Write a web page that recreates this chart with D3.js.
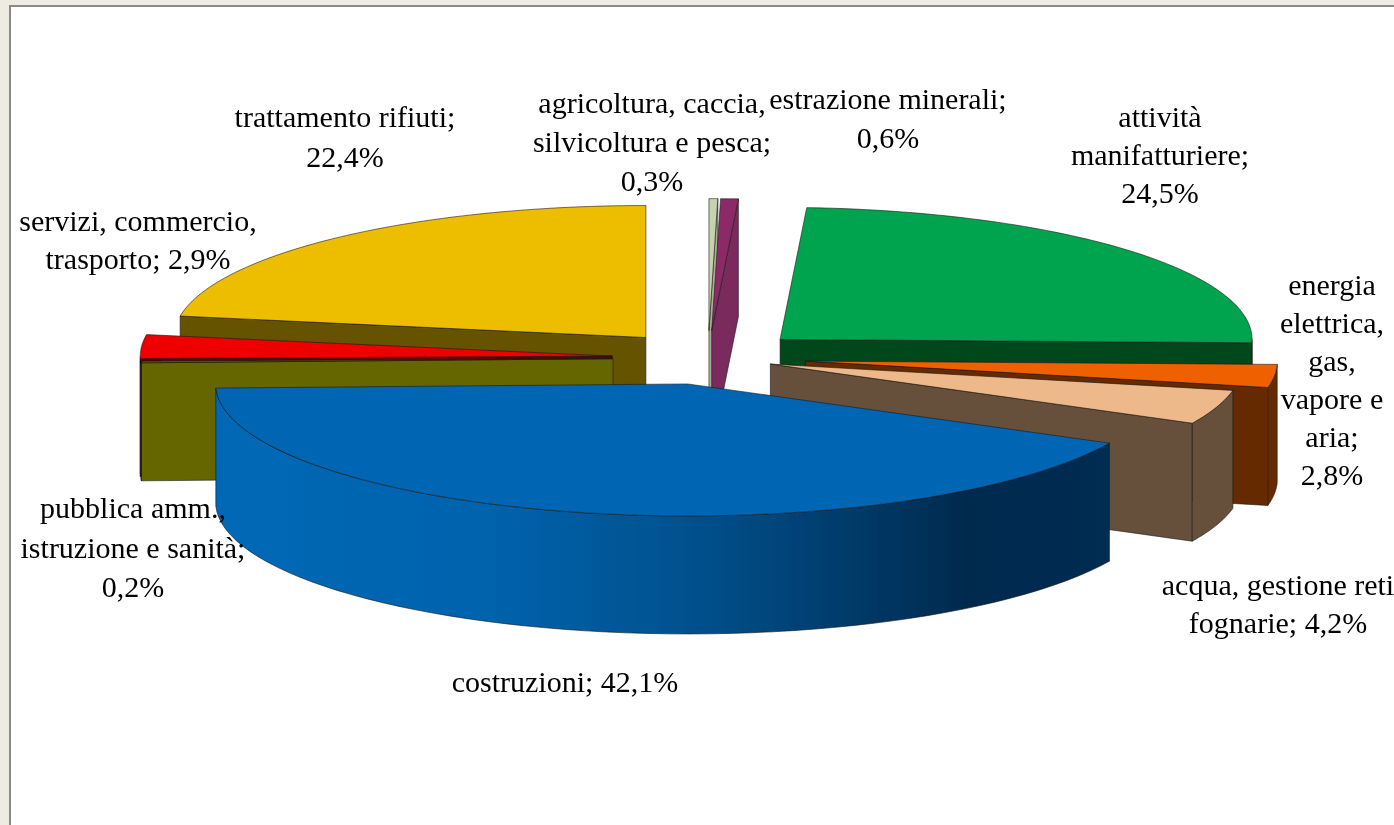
<!DOCTYPE html>
<html>
<head>
<meta charset="utf-8">
<script src="https://cdn.jsdelivr.net/npm/d3@7"></script>
<style>
  html, body { margin: 0; padding: 0; background: #eeebe3; overflow: hidden; }
  svg { display: block; }
  text { font-family: "Liberation Serif", serif; font-size: 30px; fill: #000; text-anchor: middle; }
</style>
</head>
<body>
<div id="chart"></div>
<script>
// slices clockwise from 12 o'clock, percentages as printed on the labels
const categories = ["agricoltura", "estrazione", "attività", "energia", "acqua", "costruzioni", "pubblica", "servizi", "trattamento"];
const values = [0.3, 0.6, 24.5, 2.8, 4.2, 42.1, 0.2, 2.9, 22.4];

// how far each slice is pulled out of the pie
const explode = [98, 98, 98, 98, 66, 95, 95, 96, 96];

const topColors = ["#c6d2ae", "#8c2c68", "#00a44f", "#ee6000", "#edb98a", "#0066b3", "#666600", "#ee0000", "#edbd00"];
const sideColors = ["#a9b190", "#7a2a5c", "#00461f", "#662900", "#66503a", "#002a4e", "#666600", "#660000", "#665200"];

// paint order, back of the pie first
const drawOrder = [0, 1, 8, 2, 7, 6, 3, 4, 5];

const labelLines = [
  ["trattamento rifiuti;", "22,4%"],
  ["agricoltura, caccia,", "silvicoltura e pesca;", "0,3%"],
  ["estrazione minerali;", "0,6%"],
  ["attività", "manifatturiere;", "24,5%"],
  ["energia", "elettrica,", "gas,", "vapore e", "aria;", "2,8%"],
  ["acqua, gestione reti", "fognarie; 4,2%"],
  ["costruzioni; 42,1%"],
  ["pubblica amm.,", "istruzione e sanità;", "0,2%"],
  ["servizi, commercio,", "trasporto; 2,9%"]
];
// x centre and first baseline of each label block, then line step
const labelSpots = [
  [345, 127, 40],
  [652, 113, 39],
  [888, 109, 39],
  [1160, 127, 38],
  [1332, 295, 38],
  [1278, 595, 38],
  [565, 692, 0],
  [133, 518, 39.5],
  [138, 231, 38]
];

const width = 1394;
const height = 825;
const cx = 708;
const cy = 358;
const rx = 472;
const ry = 132;
const depth = 118;

const svg = d3.select('#chart')
  .append('svg')
  .attr('width', width)
  .attr('height', height);

const defs = svg.append('defs');
defs.append('filter').attr('id', 'soft')
  .attr('x', '-2%').attr('y', '-2%').attr('width', '104%').attr('height', '104%')
  .append('feGaussianBlur').attr('stdDeviation', 0.5);

// rim shading of the big slice
const rimGradient = defs.append('linearGradient')
  .attr('id', 'rimBlue')
  .attr('gradientUnits', 'userSpaceOnUse')
  .attr('x1', 217).attr('x2', 1110).attr('y1', 0).attr('y2', 0);
[[0, "#0068b6"], [0.3, "#0063ad"], [0.55, "#004f8a"], [0.76, "#00345f"], [0.84, "#002a4e"], [1, "#002d52"]]
  .forEach(s => rimGradient.append('stop').attr('offset', s[0]).attr('stop-color', s[1]));

// frame of the sheet
svg.append('rect').attr('x', 9).attr('y', 5).attr('width', width).attr('height', height).attr('fill', '#8a8a8a');
svg.append('rect').attr('x', 11).attr('y', 7).attr('width', width).attr('height', height).attr('fill', '#fff');

const pie = d3.pie().sort(null).startAngle(0).endAngle(2 * Math.PI);
const slices = pie(values);
const line = d3.line();

// point on the squashed circle, angle clockwise from the top
function rimPoint(a, o, z) {
  return [o[0] + rx * Math.sin(a), o[1] - ry * Math.cos(a) + z];
}

const g = svg.append('g').attr('filter', 'url(#soft)');

function face(points, fill) {
  g.append('path')
    .attr('d', line(points) + 'Z')
    .attr('fill', fill)
    .attr('stroke', '#1a1a1a')
    .attr('stroke-opacity', 0.75)
    .attr('stroke-width', 0.8)
    .attr('stroke-linejoin', 'round');
}

drawOrder.forEach(i => {
  const s = slices[i];
  const mid = (s.startAngle + s.endAngle) / 2;
  const o = [cx + explode[i] * Math.sin(mid), cy - explode[i] * (ry / rx) * Math.cos(mid)];
  const side = sideColors[i];

  // cut faces, only those turned toward the viewer
  [[s.startAngle, s.startAngle > Math.PI], [s.endAngle, s.endAngle < Math.PI]].forEach(c => {
    if (!c[1]) return;
    const a = rimPoint(c[0], o, 0);
    const b = rimPoint(c[0], o, depth);
    face([o, a, b, [o[0], o[1] + depth]], side);
  });

  // outer wall, front half only
  const from = Math.max(s.startAngle, Math.PI / 2);
  const to = Math.min(s.endAngle, 3 * Math.PI / 2);
  if (to > from) {
    const steps = d3.range(0, 61).map(k => from + (to - from) * k / 60);
    const wall = steps.map(a => rimPoint(a, o, 0))
      .concat(steps.slice().reverse().map(a => rimPoint(a, o, depth)));
    face(wall, categories[i] === "costruzioni" ? 'url(#rimBlue)' : side);
  }

  // top
  const arcSteps = d3.range(0, 61).map(k => s.startAngle + (s.endAngle - s.startAngle) * k / 60);
  face([o].concat(arcSteps.map(a => rimPoint(a, o, 0))), topColors[i]);
});

// labels
labelLines.forEach((lines, i) => {
  const spot = labelSpots[i];
  const t = g.append('text');
  lines.forEach((txt, j) => {
    t.append('tspan').attr('x', spot[0]).attr('y', spot[1] + j * spot[2]).text(txt);
  });
});
</script>
</body>
</html>
